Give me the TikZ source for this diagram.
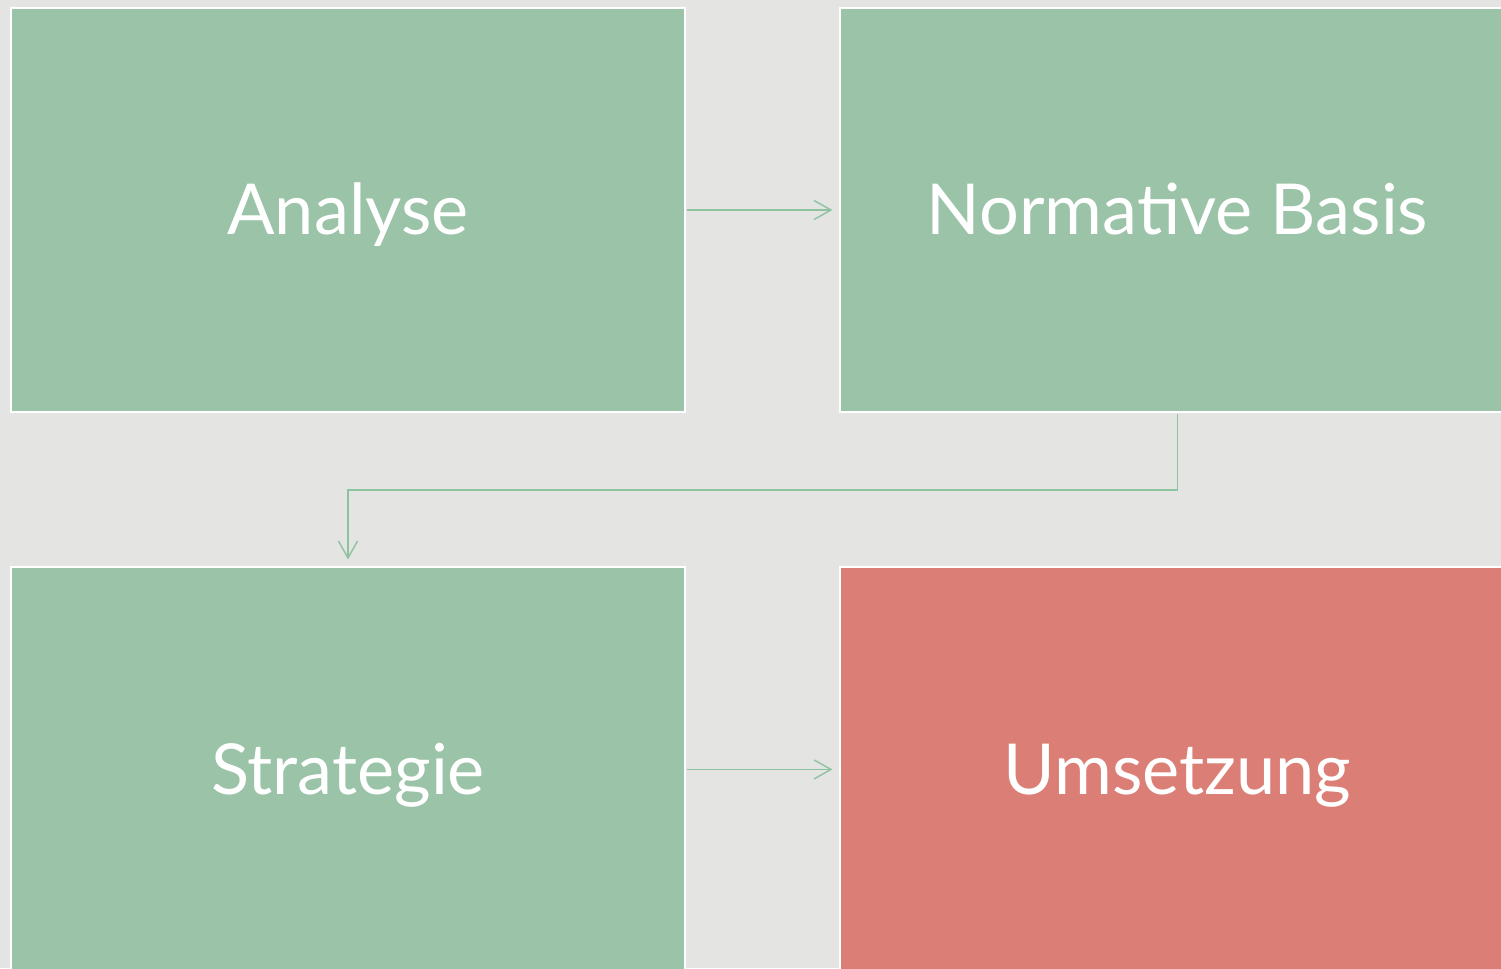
\documentclass[tikz,border=0pt]{standalone}
\usepackage{fontspec}
\setmainfont{Lato}
\usetikzlibrary{arrows.meta,positioning}
\definecolor{bggray}{HTML}{E4E4E2}
\definecolor{stepgreen}{HTML}{9AC3A8}
\definecolor{stepred}{HTML}{DB7F76}
\definecolor{linkgreen}{HTML}{8EC3A1}
\tikzset{%
  >={Straight Barb[length=3.4mm,width=3.8mm]},
  % Specifications for style of nodes:
      stepbase/.style = {rectangle, draw=white, line width=1.1pt,
                         minimum width=13.48cm, minimum height=8.08cm,
                         text height=1.25cm, text depth=0.25cm,
                         text=white, text centered,
                         font=\fontsize{40}{48}\selectfont},
     stepdone/.style = {stepbase, fill=stepgreen},
     stepopen/.style = {stepbase, fill=stepred},
      link/.style = {->, draw=linkgreen, line width=0.8pt,
                     shorten <=0.02cm, shorten >=0.14cm},
}
\begin{document}
\begin{tikzpicture}[node distance=3.07cm]

\fill[bggray] (0,0) rectangle (30.02,19.36);
\useasboundingbox (0,0) rectangle (30.02,19.36);

\node (Analyse)   [stepdone] at (6.96,15.16)         {Analyse};

\node (Normativ)  [stepdone, right=of Analyse]   {Normative Basis};

\node (Strategie) [stepdone, below=of Analyse]   {Strategie};

\node (Umsetzung) [stepopen, right=of Strategie] {Umsetzung};

\draw[link]  (Analyse) -- (Normativ);
\draw[link]  (Normativ.south) -- ++(0,-1.54) -| (Strategie.north);
\draw[link]  (Strategie) -- (Umsetzung);
\end{tikzpicture}
\end{document}
